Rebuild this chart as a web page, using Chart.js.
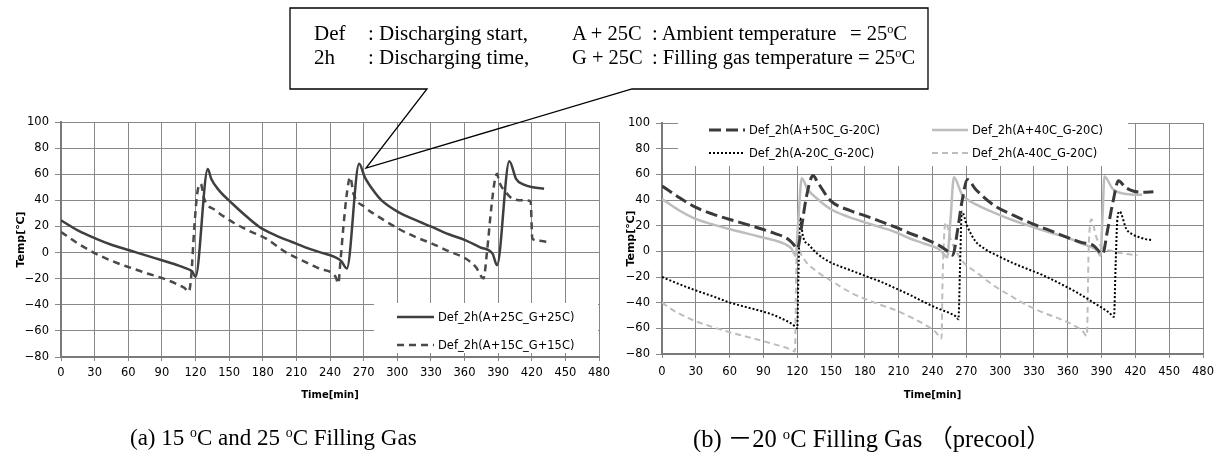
<!DOCTYPE html>
<html>
<head>
<meta charset="utf-8">
<script src="https://cdn.jsdelivr.net/npm/chart.js@4.4.0/dist/chart.umd.min.js"></script>
<style>
  html, body { margin: 0; padding: 0; background: #fff; }
  body { width: 1229px; height: 464px; position: relative; overflow: hidden;
         font-family: "Liberation Serif", "Times New Roman", serif; color: #000; }
  canvas { position: absolute; top: 100px; }
  #chartA { left: 0; }
  #chartB { left: 600px; }
  #callout { position: absolute; left: 0; top: 0; pointer-events: none; }
  .t { position: absolute; font-size: 21px; line-height: 24px; white-space: pre; }
  .r { font-size: 20.5px; }
  .cap { position: absolute; font-size: 23px; line-height: 28px; white-space: pre; top: 424px; }
  .capb { font-size: 24.5px; top: 423px; }
  .deg { font-size: 0.6em; position: relative; top: -0.55em; }
  .cjk { font-family: "Noto Sans CJK JP", sans-serif; }
</style>
</head>
<body>
<canvas id="chartA" width="610" height="310"></canvas>
<canvas id="chartB" width="620" height="310"></canvas>

<svg id="callout" width="1229" height="464">
  <path d="M427,89 L290,89 L290,8 L928,8 L928,89 L632,89 L366,168 Z"
        fill="none" stroke="#000" stroke-width="1.3"/>
</svg>
<div class="t" style="left:314px;top:21px">Def</div>
<div class="t" style="left:368px;top:21px">: Discharging start,</div>
<div class="t r" style="left:572px;top:21px">A + 25C</div>
<div class="t r" style="left:652px;top:21px">: Ambient temperature</div>
<div class="t r" style="left:850px;top:21px">= 25<span class="deg">o</span>C</div>
<div class="t" style="left:314px;top:45px">2h</div>
<div class="t" style="left:368px;top:45px">: Discharging time,</div>
<div class="t r" style="left:572px;top:45px">G + 25C</div>
<div class="t r" style="left:652px;top:45px">: Filling gas temperature = 25<span class="deg">o</span>C</div>

<div class="cap" style="left:130px">(a) 15 <span class="deg">o</span>C and 25 <span class="deg">o</span>C Filling Gas</div>
<div class="cap capb" style="left:693px">(b) <span class="cjk">－</span>20 <span class="deg">o</span>C Filling Gas <span class="cjk">（</span>precool<span class="cjk">）</span></div>

<script>
// ── Axis ticks ──
const xTicks = [0, 30, 60, 90, 120, 150, 180, 210, 240, 270, 300, 330, 360, 390, 420, 450, 480];
const xTickLabels = ['0', '30', '60', '90', '120', '150', '180', '210', '240', '270', '300', '330', '360', '390', '420', '450', '480'];
const yTicks = [-80, -60, -40, -20, 0, 20, 40, 60, 80, 100];
const yTickLabels = ['−80', '−60', '−40', '−20', '0', '20', '40', '60', '80', '100'];

// ── (a) 15C / 25C filling gas ──
const labelsA = ['Def_2h(A+25C_G+25C)', 'Def_2h(A+15C_G+15C)'];
const timeA25 = [0, 15, 31, 45, 61, 75, 90, 105, 111, 117, 120, 131, 134, 141, 153, 165, 177, 192, 206, 218, 230,
                 244, 250, 255, 266, 271, 280, 286, 301, 316, 331, 346, 361, 374, 385, 389, 400, 406, 413, 421, 431];
const tempA25 = [24.7, 17, 10.7, 6, 1.8, -2, -5.9, -10, -12, -14.5, -18.6, 64, 56.5, 47.6, 37.4, 28, 19.6, 13, 8.1, 4, 0.5,
                 -3.3, -6.5, -12.2, 68, 57.8, 46, 40, 31, 25, 19.6, 14, 9.4, 4, -0.8, -9.7, 70, 56.5, 52, 50, 48.9];
const timeA15 = [0, 15, 31, 47, 64, 77, 91, 103, 110, 114, 116, 119, 121.5, 124.7, 127.7, 138, 153, 168, 183, 200, 215, 230,
                 245, 247.5, 249, 252, 255, 258, 261, 271, 286, 301, 316, 331, 346, 361, 370, 377, 380, 384, 387, 389,
                 391, 397, 403, 412, 419, 420.5, 427, 434];
const tempA15 = [15.8, 7, -0.8, -7, -12.2, -16, -19.8, -24, -27, -30, -20, 20, 45, 52.7, 41.2, 32.3, 23.4, 16.5, 10.7, 0.5, -6, -12.2,
                 -18.6, -23.7, -10, 20, 45, 57.8, 45, 34.9, 26, 18.3, 12, 6.9, 1, -4.6, -11, -19.8, 0, 35, 55, 60.3,
                 54, 46, 41.2, 40, 39.4, 10.7, 9, 8.1];

// ── (b) -20C filling gas (precool) ──
const labelsB = ['Def_2h(A+50C_G-20C)', 'Def_2h(A+40C_G-20C)', 'Def_2h(A-20C_G-20C)', 'Def_2h(A-40C_G-20C)'];
const timeB50 = [0, 15, 30.5, 45, 59.5, 75, 88.5, 100, 109, 114, 117.6, 120, 124, 128, 134, 138, 149.5, 167, 180, 195,
                 207.6, 220, 233.7, 245, 252, 258, 262, 266, 271, 278, 295, 312, 330, 345, 359, 372, 383, 391,
                 395, 400, 405, 411, 418, 427, 436];
const tempB50 = [51, 42, 34, 29, 25, 21, 17.4, 14, 11, 8, 4.4, 2, 20, 42, 59, 54, 39.5, 31.7, 27.8, 23,
                 18.7, 14, 9.6, 5, 1, -3, 15, 38, 56, 48.6, 35.6, 28, 21, 16, 11, 7, 4.4, -2,
                 15, 38, 55, 50, 47, 46, 46.5];
const timeB40 = [0, 15, 30.5, 45, 59.5, 75, 88.5, 100, 109, 115, 118.5, 121, 124, 129, 138, 149.5, 165, 180, 195,
                 207.6, 220, 233.7, 245, 249, 253, 256, 259, 266, 280, 295, 312, 330, 345, 359, 372, 386, 389,
                 391, 392.5, 400, 412, 426];
const tempB40 = [40.8, 32, 25, 21, 17.4, 14, 11, 8.5, 5.7, 2, -3.4, 25, 57, 48.6, 40.8, 33, 27, 22.6, 18.5,
                 14.8, 10, 5.7, 2, -1, -4.7, 25, 57.7, 44.7, 36, 30, 24, 18.7, 14.5, 11, 6, 0.5, -3.4,
                 30, 58.4, 48.6, 44.7, 44];
const timeBm20 = [0, 15, 30.5, 45, 59.5, 75, 90, 100, 110, 116, 120, 121, 122.5, 125, 131, 138, 149.5, 165, 180, 195,
                  207.6, 220, 233.7, 246, 255, 261, 263, 264.5, 266, 270.6, 278, 286.6, 298, 310, 325, 339, 354,
                  368, 383, 397, 401, 402.5, 404, 406, 412, 418, 423.5, 429, 435];
const tempBm20 = [-20, -25.5, -30.6, -35, -39.7, -43.5, -47, -50, -54, -57, -60, -20, 26, 12, 4.4, -2, -8.6, -14, -19, -24,
                  -29, -34, -40, -45, -48, -51, -53, -10, 31, 20, 8, 1.8, -3.5, -8.6, -14, -19, -25.5,
                  -32, -40, -48, -51, -10, 25, 31, 17.4, 13, 11, 9.5, 8.8];
const timeBm40 = [0, 10, 22, 30, 45, 60, 75, 90, 100, 110, 115, 118, 119, 120, 122, 126, 138, 152, 167, 180, 195,
                  207.6, 220, 233, 243, 248, 249, 251.6, 256, 266, 280, 295, 310, 324, 339, 354, 366, 373, 377,
                  378.5, 381, 385, 389, 400, 412, 422];
const tempBm40 = [-40, -46, -51.4, -54.5, -59, -63, -66.5, -70, -72.5, -75, -77, -78, -20, 15, 2, -6, -16, -24, -32, -37, -42,
                  -46, -51, -57, -63, -68, -20, 22.6, 9.6, -7, -17, -27, -35, -42, -48, -53, -58, -62, -66,
                  0, 25, 12, 4.4, 0, -2, -3];

// ── Shared style ──
const TICK_FONT  = { family: 'DejaVu Sans', size: 11.5 };
const X_TITLE    = { family: 'DejaVu Sans', size: 10, weight: 'bold' };
const Y_TITLE    = { family: 'DejaVu Sans', size: 11, weight: 'bold' };
const GRID_COLOR = '#888888';
const AXIS_COLOR = '#7a7a7a';

const pts = (t, v) => t.map((x, i) => ({ x: x, y: v[i] }));

function line(label, t, v, color, width, dash) {
  return {
    label: label,
    data: pts(t, v),
    borderColor: color,
    borderWidth: width,
    borderDash: dash,
    pointRadius: 0,
    fill: false,
    cubicInterpolationMode: 'monotone',
  };
}

// ── Legend drawn inside a white box on the plot ──
const boxLegend = {
  id: 'boxLegend',
  afterDatasetsDraw(chart, args, opts) {
    const ctx = chart.ctx;
    ctx.save();
    ctx.fillStyle = '#fff';
    ctx.fillRect(opts.box[0], opts.box[1], opts.box[2], opts.box[3]);
    ctx.font = '11.5px "DejaVu Sans"';
    ctx.textBaseline = 'middle';
    ctx.fillStyle = '#000';
    chart.data.datasets.forEach((ds, i) => {
      const [x, y] = opts.items[i];
      ctx.save();
      ctx.strokeStyle = ds.borderColor;
      ctx.lineWidth = ds.borderWidth;
      ctx.setLineDash(ds.borderDash || []);
      ctx.beginPath();
      ctx.moveTo(x, y);
      ctx.lineTo(x + opts.sample, y);
      ctx.stroke();
      ctx.restore();
      ctx.fillText(ds.label, x + opts.sample + 4, y + 1);
    });
    ctx.restore();
  }
};

function scalesFor(yWidth, yTitlePad, xHeight, xTickPad, xTitlePad) {
  return {
    x: {
      type: 'linear', min: 0, max: 480,
      afterBuildTicks: s => { s.ticks = xTicks.map(v => ({ value: v })); },
      afterFit: s => { s.height = xHeight; s.paddingLeft = 0; s.paddingRight = 0; },
      ticks: { color: '#000', font: TICK_FONT, padding: xTickPad, maxRotation: 0,
               callback: v => xTickLabels[xTicks.indexOf(v)] },
      grid: { color: GRID_COLOR, lineWidth: 1, tickLength: 4 },
      border: { color: AXIS_COLOR, width: 2 },
      title: { display: true, text: 'Time[min]', color: '#000', font: X_TITLE,
               padding: { top: 0, bottom: xTitlePad } },
    },
    y: {
      min: -80, max: 100,
      afterBuildTicks: s => { s.ticks = yTicks.map(v => ({ value: v })); },
      afterFit: s => { s.width = yWidth; s.paddingTop = 0; s.paddingBottom = 0; },
      ticks: { color: '#000', font: TICK_FONT, padding: 6,
               callback: v => yTickLabels[yTicks.indexOf(v)] },
      grid: { color: GRID_COLOR, lineWidth: 1, tickLength: 6 },
      border: { color: AXIS_COLOR, width: 2 },
      title: { display: true, text: 'Temp[℃]', color: '#000', font: Y_TITLE,
               padding: { top: yTitlePad, bottom: 0 } },
    },
  };
}

function buildChart(id, datasets, pad, scales, legendOpts) {
  return new Chart(document.getElementById(id), {
    type: 'scatter',
    data: { datasets: datasets },
    options: {
      responsive: false,
      animation: false,
      devicePixelRatio: 1,
      showLine: true,
      layout: { padding: pad },
      plugins: { legend: { display: false }, tooltip: { enabled: false }, boxLegend: legendOpts },
      scales: scales,
    },
    plugins: [boxLegend],
  });
}

// ── (a) ──
buildChart('chartA', [
  line(labelsA[0], timeA25, tempA25, '#3f3f3f', 2.5, []),
  line(labelsA[1], timeA15, tempA15, '#4a4a4a', 2.5, [7, 5]),
], { top: 22, right: 11, left: 0, bottom: 0 },
   scalesFor(61, 15, 53, 5, 9),
   { box: [374, 203, 224, 50], sample: 37, items: [[397, 217], [397, 245]] });

// ── (b) ──
buildChart('chartB', [
  line(labelsB[0], timeB50, tempB50, '#3a3a3a', 3, [12, 5]),
  line(labelsB[1], timeB40, tempB40, '#bdbdbd', 2.5, []),
  line(labelsB[2], timeBm20, tempBm20, '#000000', 2, [2, 2]),
  line(labelsB[3], timeBm40, tempBm40, '#bdbdbd', 2, [6, 4]),
], { top: 23, right: 17, left: 0, bottom: 0 },
   scalesFor(62, 25, 56, 7, 9),
   { box: [78, 21, 450, 45], sample: 36, items: [[109, 30], [332, 30], [109, 53], [332, 53]] });
</script>
</body>
</html>
